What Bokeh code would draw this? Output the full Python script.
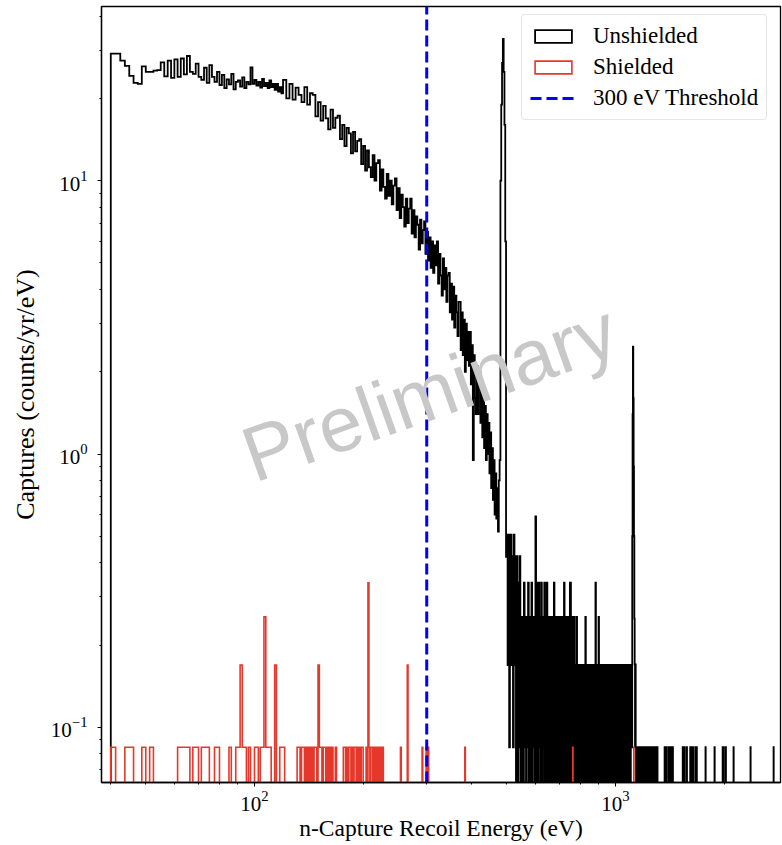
import numpy as np
from bokeh.plotting import figure
from bokeh.models import Range1d, FixedTicker, Legend, LegendItem, Label
from bokeh.embed import file_html
from bokeh.resources import INLINE

# ---------------- data ----------------
rate_per_count = 0.0845          # counts/yr/eV that one event in a bin gives

# Unshielded spectrum, 40-120 eV, 1.25 eV bins (counts/yr/eV)
low_start, low_width = 40.0, 1.25
low_rate = [29.2, 29.2, 27.5, 26.3, 24.2, 22.8, 22.6, 26.2, 25.0, 25.0,
            25.3, 25.4, 27.1, 24.1, 27.5, 23.8, 27.8, 24.0, 28.0, 24.5,
            28.6, 25.0, 24.6, 26.8, 24.0, 23.4, 25.9, 22.8, 26.5, 24.0,
            23.0, 25.0, 22.4, 24.4, 21.8, 23.5, 22.5, 24.6, 21.6, 23.0,
            23.3, 22.1, 23.9, 21.8, 23.0, 22.5, 26.0, 22.6,
            23.4, 22.3, 23.0, 21.9, 23.6, 22.2, 22.8, 21.8, 23.3, 22.0,
            22.6, 21.5, 22.6, 21.2, 22.0, 20.9]

# Unshielded, 120-480 eV, 2.5 eV bins
coarse_width = 2.5
mid_rate = [23.4, 20.0, 22.6, 19.8, 21.9, 20.6, 19.4, 22.0, 19.0, 20.9,
            20.6, 17.2, 19.4, 16.6, 18.8, 16.9, 15.4, 18.2, 15.6, 17.0,
            17.3, 14.2, 16.0, 13.4, 15.6, 14.9, 12.6, 15.1, 12.8, 14.0,
            14.2, 11.5, 13.4, 10.9, 12.9, 11.2, 10.3, 12.4, 10.0, 11.6,
            11.9, 9.2, 11.0, 9.5, 8.6, 10.6, 8.8, 10.0, 8.2, 9.6,
            10.2, 7.8, 9.4, 7.3, 8.9, 8.0, 6.8, 8.6, 7.0, 7.9,
            8.6, 6.4, 7.8, 6.2, 7.4, 6.9, 5.6, 7.2, 5.9, 6.6,
            7.1, 5.4, 6.5, 5.1, 6.2, 4.8, 6.0, 4.6, 5.8, 4.9,
            6.0, 4.2, 5.4, 4.5, 3.8, 5.2, 4.0, 4.8, 3.6, 4.5,
            4.6, 3.3, 4.2, 3.1, 4.1, 2.9, 3.8, 3.3, 2.7, 3.6,
            3.6, 2.4, 3.3, 2.3, 3.1, 2.0, 3.0, 2.2, 2.8, 2.1,
            2.8, 1.8, 2.5, 0.95, 2.3, 1.6, 1.4, 2.1, 1.4, 1.9,
            2.0, 1.3, 1.8, 1.15, 1.65, 1.05, 1.5, 0.95, 1.4, 1.0,
            1.3, 0.85, 1.2, 0.75, 1.05, 0.68, 0.95, 0.6, 0.85, 0.58,
            0.75, 0.52, 0.8, 0.95]

# Unshielded capture line near 488 eV (480-500 eV)
peak1_rate = [10.0, 19.0, 27.0, 33.0, 25.0, 16.0, 6.0, 0.42]

# Unshielded, 500-1110 eV: events per 2.5 eV bin
sparse_counts = [6, 2, 6, 1, 5, 6, 2,
                 5, 1, 6, 2, 5, 0,
                 5, 0, 4, 1, 5, 0, 3, 0,
                 3, 0, 4, 1, 3, 0, 3, 1, 4, 0, 3, 0, 2, 4, 0, 3, 1, 3, 0,
                 7,
                 0, 3, 4, 0, 4, 1, 3, 0, 4, 2, 0, 3, 1, 4, 0, 3, 0, 4, 1, 3, 0,
                 3, 0, 3, 1, 2, 0, 3, 0, 4, 1, 0, 3, 1, 3, 0, 2, 3, 0, 1, 3,
                 0, 2, 3, 0, 2, 1, 4, 0, 3, 1, 0, 3, 0, 2, 1, 3, 0, 4,
                 4, 0, 2, 3, 0, 2, 1, 3, 0, 2, 1, 0, 3, 1,
                 2, 0, 2, 1, 0, 2, 1, 0, 2, 0, 1, 2, 0, 2, 1, 0, 3, 0, 2, 1,
                 0, 2, 1, 0, 2, 0, 1, 2, 0, 2, 1, 0, 2, 0, 1, 2, 0, 2, 4, 0,
                 2, 1, 0, 2, 0, 3, 1, 0, 2, 0, 1, 2, 0, 2, 1, 0, 2, 0, 1, 2,
                 0, 2,
                 2, 0, 1, 2, 0, 2, 1, 0, 2, 0, 1, 2, 0, 2, 0, 1, 1, 0, 2, 1,
                 0, 2, 0, 1, 2, 0, 2, 1, 0, 2, 1, 0, 2, 0, 1, 2, 0, 2, 1, 0,
                 2, 0, 1, 1, 2, 0, 1, 0, 2, 1, 0, 2, 1, 0, 2, 0, 1, 2, 0, 1,
                 2, 0, 1, 2, 0, 2, 1, 2]

# Unshielded capture line near 1118 eV (1110-1140 eV)
peak2_rate = [0.0845, 0.5, 1.4, 2.47, 1.6, 0.9, 0.5, 0.25, 0.17, 0.0845, 0.17, 0.0845]

# Unshielded above 1140 eV: energies of the single-event bins
tail_end = 2800.0
tail_single_e = [1142.5, 1147.5, 1150, 1155, 1160, 1162.5, 1167.5, 1172.5, 1177.5, 1180,
                 1187.5, 1195, 1200, 1207.5, 1215, 1220, 1227.5, 1232.5, 1240, 1245,
                 1257.5, 1265, 1272.5, 1280, 1287.5, 1300, 1305, 1367.5, 1382.5, 1402.5,
                 1412.5, 1430, 1440, 1535, 1545, 1552.5, 1575, 1610, 1625, 1637.5,
                 1662.5, 1677.5, 1775, 1880, 1980, 1992.5, 2020, 2122.5, 2365, 2740]

# Shielded spectrum: 1.25 eV bins; left edge (eV) and events of each non-empty bin
shield_width = 1.25
shield_e = [40, 43.75, 45, 48.75, 51.25,
            61.25, 62.5, 63.75, 65, 67.5, 68.75,
            71.25, 72.5, 73.75, 77.5, 78.75, 85,
            88.75, 90, 91.25, 92.5, 93.75, 96.25,
            100, 101.25, 103.75, 105, 106.25, 107.5, 108.75, 110,
            113.75, 117.5, 118.75, 120,
            131.25, 132.5, 135, 136.25, 138.75, 141.25,
            143.75, 146.25, 147.5, 150, 151.25, 152.5,
            155, 156.25, 158.75, 161.25, 163.75, 167.5,
            176.25, 177.5, 180, 182.5, 183.75, 186.25, 188.75, 190, 192.5, 195, 197.5, 198.75,
            203.75, 206.25, 207.5, 210, 211.25, 213.75, 216.25, 218.75, 221.25, 223.75, 226.25,
            253.75, 265, 291.25, 298.75, 302.5, 382.5, 761.25, 1123.75]
shield_n = [1, 1, 1, 1, 1,
            1, 1, 1, 1, 1, 1,
            1, 1, 1, 1, 1, 1,
            1, 1, 2, 1, 1, 1,
            1, 1, 1, 1, 3, 1, 1, 1,
            2, 1, 1, 1,
            1, 1, 1, 1, 1, 1,
            1, 1, 1, 2, 1, 1,
            1, 1, 1, 1, 1, 1,
            1, 1, 1, 1, 1, 1, 1, 1, 1, 1, 1, 1,
            1, 4, 1, 1, 1, 1, 1, 1, 1, 1, 1,
            1, 2, 1, 1, 1, 1, 1, 1]

threshold = 300.0

# ---------------- build histogram step outlines ----------------
FLOOR = 1e-4   # empty bins drop below the visible range


def chain(segments, start):
    edges = [start]
    vals = []
    for width, values in segments:
        for v in values:
            edges.append(edges[-1] + width)
            vals.append(v)
    return np.array(edges), np.array(vals, dtype=float)


def step_outline(edges, vals):
    xs = [edges[0]]
    ys = [FLOOR]
    for i, v in enumerate(vals):
        y = v if v > 0 else FLOOR
        xs += [edges[i], edges[i + 1]]
        ys += [y, y]
    xs.append(edges[-1])
    ys.append(FLOOR)
    return xs, ys


tail_start = low_start + len(low_rate) * low_width + coarse_width * (
    len(mid_rate) + len(peak1_rate) + len(sparse_counts) + len(peak2_rate))
n_tail = int(round((tail_end - tail_start) / coarse_width))
tail_counts = np.zeros(n_tail)
for e in tail_single_e:
    tail_counts[int(round((e - tail_start) / coarse_width))] += 1

u_edges, u_vals = chain([
    (low_width, low_rate),
    (coarse_width, mid_rate),
    (coarse_width, peak1_rate),
    (coarse_width, list(np.array(sparse_counts) * rate_per_count)),
    (coarse_width, peak2_rate),
    (coarse_width, list(tail_counts * rate_per_count)),
], low_start)
ux, uy = step_outline(u_edges, u_vals)

n_sh = int(round((tail_end - low_start) / shield_width))
sh_counts = np.zeros(n_sh)
for e, n in zip(shield_e, shield_n):
    sh_counts[int(round((e - low_start) / shield_width))] += n
s_edges, s_vals = chain([(shield_width, list(sh_counts * rate_per_count))], low_start)
sx, sy = step_outline(s_edges, s_vals)

# ---------------- figure ----------------
x_lo, x_hi = 37.7, 2864.0
y_lo, y_hi = 0.0628, 43.4

p = figure(width=782, height=845, x_axis_type="log", y_axis_type="log",
           x_range=Range1d(x_lo, x_hi), y_range=Range1d(y_lo, y_hi),
           output_backend="svg", toolbar_location=None,
           min_border_left=101, min_border_right=2, min_border_top=6, min_border_bottom=63)

p.grid.visible = False
p.outline_line_color = "black"
p.outline_line_width = 1.3
p.background_fill_color = "white"
p.border_fill_color = "white"

x_major = [100, 1000]
x_minor = [m * 10 ** k for k in (1, 2, 3) for m in range(2, 10)]
y_major = [0.1, 1, 10]
y_minor = [m * 10.0 ** k for k in (-2, -1, 0, 1) for m in range(2, 10)]
p.xaxis.ticker = FixedTicker(ticks=x_major, minor_ticks=x_minor)
p.yaxis.ticker = FixedTicker(ticks=y_major, minor_ticks=y_minor)

for ax in (p.xaxis[0], p.yaxis[0]):
    ax.axis_line_color = "black"
    ax.axis_line_width = 1.3
    ax.major_tick_in = 0
    ax.major_tick_out = 4
    ax.minor_tick_in = 0
    ax.minor_tick_out = 2
    ax.major_tick_line_color = "black"
    ax.minor_tick_line_color = "black"
    ax.major_label_text_font = "Liberation Serif"
    ax.major_label_text_font_size = "21px"
    ax.major_label_text_color = "black"
    ax.axis_label_text_font = "Liberation Serif"
    ax.axis_label_text_font_style = "normal"
    ax.axis_label_text_color = "black"

p.xaxis.axis_label = "n-Capture Recoil Energy (eV)"
p.yaxis.axis_label = "Captures (counts/yr/eV)"
p.xaxis.axis_label_text_font_size = "23.5px"
p.yaxis.axis_label_text_font_size = "26px"
p.xaxis.major_label_standoff = 4
p.yaxis.major_label_standoff = 10
p.xaxis.axis_label_standoff = 1
p.yaxis.axis_label_standoff = 8

r_un = p.patch(ux, uy, fill_alpha=0, line_color="black", line_width=1.8, line_join="miter")
r_sh = p.patch(sx, sy, fill_alpha=0, line_color="#e5382b", line_width=1.6, line_join="miter")
r_thr = p.segment(x0=[threshold], y0=[y_lo], x1=[threshold], y1=[y_hi],
                  line_color="#0000ff", line_width=3, line_dash="11 5")

wm = Label(x=305, y=1.68, text="Preliminary", angle=float(np.deg2rad(19.5)),
           text_align="center", text_baseline="alphabetic",
           text_font="Liberation Sans", text_font_size="78px", text_color="#c8c8c8")
p.add_layout(wm)

legend = Legend(items=[LegendItem(label="Unshielded", renderers=[r_un]),
                       LegendItem(label="Shielded", renderers=[r_sh]),
                       LegendItem(label="300 eV Threshold", renderers=[r_thr])],
                location=(420, 662), padding=8, spacing=5,
                glyph_width=46, glyph_height=16, label_standoff=17,
                label_text_font="Liberation Serif", label_text_font_size="23px",
                label_text_color="black",
                border_line_color="#cccccc", border_line_width=1,
                background_fill_color="white", background_fill_alpha=0.8)
try:
    legend.border_radius = 4
except Exception:
    pass
p.add_layout(legend)

open("out.html", "w").write(file_html(p, INLINE))
